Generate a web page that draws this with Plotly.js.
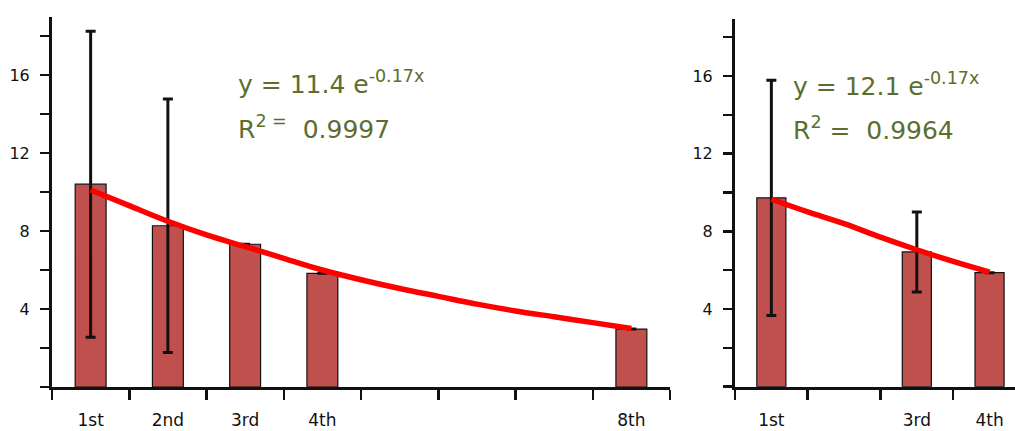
<!DOCTYPE html>
<html>
<head>
<meta charset="utf-8">
<script src="https://cdn.plot.ly/plotly-3.0.1.min.js"></script>
<style>html,body{margin:0;padding:0;background:#fff;}#chart{width:1015px;height:431px;}</style>
</head>
<body>
<div id="chart"></div>
<script>
// ---- data ----
const leftCats = ['1st', '2nd', '3rd', '4th', '8th'];
const leftMeans = [10.4, 8.27, 7.32, 5.83, 2.97];
const leftErr = [7.85, 6.5, 0, 0, null];
const leftFitX = [1, 1.5, 2, 2.5, 3, 3.5, 4, 4.5, 5, 5.5, 6, 6.5, 7, 7.5, 8];
const leftFitY = [10.1, 9.3, 8.5, 7.8, 7.2, 6.6, 6.0, 5.5, 5.05, 4.65, 4.25, 3.9, 3.6, 3.3, 3.0];
const leftEq = 'y = 11.4 e<sup>-0.17x</sup>';
const leftR2 = 'R<sup>2 =</sup>&nbsp; 0.9997';

const rightCats = ['1st', '3rd', '4th'];
const rightMeans = [9.72, 6.94, 5.87];
const rightErr = [6.06, 2.06, null];
const rightFitX = [1, 1.5, 2, 2.5, 3, 3.5, 4];
const rightFitY = [9.65, 9.0, 8.4, 7.7, 7.05, 6.45, 5.9];
const rightEq = 'y = 12.1 e<sup>-0.17x</sup>';
const rightR2 = 'R<sup>2</sup> = &nbsp;0.9964';

const yTickVals = [4, 8, 12, 16];
const yTickText = ['4', '8', '12', '16'];
const yMinorVals = [0, 2, 6, 10, 14, 18];

// ---- helpers ----
const rank = c => parseInt(c, 10);
const pos = c => rank(c) - 0.5;      // bar centred in its slot
const W = 1015, H = 431;
const px = v => v / W, py = v => (H - v) / H;

const barColor = '#c0504d';
const fitColor = '#ff0000';
const txtColor = '#5b6e30';
const tickFont = {family: 'DejaVu Sans, Arial, sans-serif', size: 16, color: '#111'};

function barTrace(cats, means, errs, xa, ya) {
  return {
    type: 'bar', x: cats.map(pos), y: means, width: 0.4,
    xaxis: xa, yaxis: ya,
    marker: {color: barColor, line: {color: '#111', width: 1.2}},
    error_y: {type: 'data', array: errs, visible: true, color: '#111', thickness: 3, width: 5},
    hoverinfo: 'skip', showlegend: false
  };
}
function fitTrace(fx, fy, xa, ya) {
  return {
    type: 'scatter', mode: 'lines', x: fx.map(v => v - 0.5), y: fy,
    xaxis: xa, yaxis: ya,
    line: {color: fitColor, width: 5.5, shape: 'spline'},
    hoverinfo: 'skip', showlegend: false
  };
}

const data = [
  barTrace(leftCats, leftMeans, leftErr, 'x', 'y'),
  fitTrace(leftFitX, leftFitY, 'x', 'y'),
  barTrace(rightCats, rightMeans, rightErr, 'x2', 'y2'),
  fitTrace(rightFitX, rightFitY, 'x2', 'y2')
];

function xAxis(cats, range, dom, anchor, nSlots) {
  const slots = [];
  for (let i = 0; i <= nSlots; i++) slots.push(i);
  return {
    domain: dom, range: range, anchor: anchor,
    showgrid: false, zeroline: false, showline: true, linecolor: '#111', linewidth: 3,
    tickmode: 'array', tickvals: cats.map(pos), ticktext: cats,
    ticks: '', ticklabelstandoff: 16, tickfont: Object.assign({}, tickFont, {size: 17}),
    minor: {tickmode: 'array', tickvals: slots, ticks: 'outside', ticklen: 10, tickwidth: 2.5, tickcolor: '#111', showgrid: false},
    fixedrange: true
  };
}
function yAxis(range, dom, anchor) {
  return {
    domain: dom, range: range, anchor: anchor,
    showgrid: false, zeroline: false, showline: true, linecolor: '#111', linewidth: 3,
    tickmode: 'array', tickvals: yTickVals, ticktext: yTickText,
    ticks: 'outside', ticklen: 9, tickwidth: 2.5, tickcolor: '#111',
    ticklabelstandoff: 7, tickfont: tickFont,
    minor: {tickmode: 'array', tickvals: yMinorVals, ticks: 'outside', ticklen: 9, tickwidth: 2.5, tickcolor: '#111', showgrid: false},
    fixedrange: true
  };
}

const annFont = {family: 'DejaVu Sans, Arial, sans-serif', size: 25, color: txtColor};
function ann(text, x, y) {
  return {text: text, xref: 'paper', yref: 'paper', x: px(x), y: py(y), xanchor: 'left', yanchor: 'middle', showarrow: false, font: annFont};
}

const layout = {
  width: W, height: H,
  margin: {l: 0, r: 0, t: 0, b: 0},
  paper_bgcolor: '#fff', plot_bgcolor: 'rgba(0,0,0,0)',
  bargap: 0,
  xaxis: xAxis(leftCats, [0, 8], [px(52), px(670)], 'y', 8),
  yaxis: yAxis([0, 19], [py(387), py(16.5)], 'x'),
  xaxis2: xAxis(rightCats, [0, 3.85], [px(735), 1], 'y2', 3),
  yaxis2: yAxis([0, 18.93], [py(386.7), py(19)], 'x2'),
  annotations: [
    ann(leftEq, 236, 83),
    ann(leftR2, 236, 127),
    ann(rightEq, 791, 84),
    ann(rightR2, 791, 129)
  ]
};

Plotly.newPlot('chart', data, layout, {displayModeBar: false, staticPlot: true});
</script>
</body>
</html>
